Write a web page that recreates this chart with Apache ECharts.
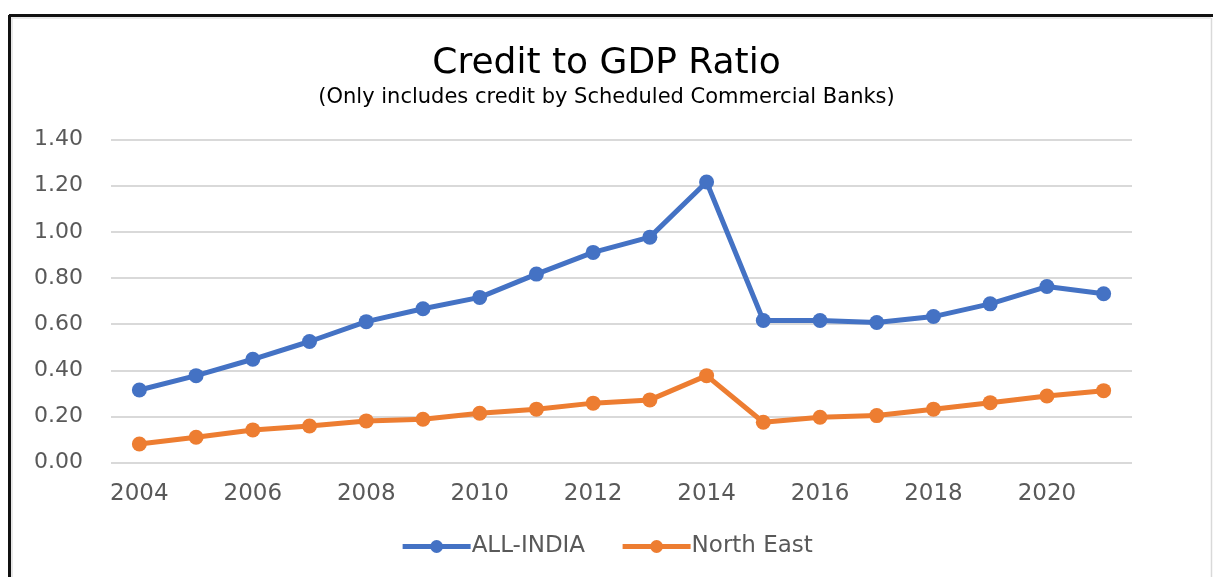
<!DOCTYPE html>
<html>
<head>
<meta charset="utf-8">
<script src="https://cdn.jsdelivr.net/npm/echarts@6/dist/echarts.min.js"></script>
<style>
html,body{margin:0;padding:0;background:#fff;}
#c{width:1213px;height:577px;}
</style>
</head>
<body>
<div id="c"></div>
<script>
const years = ['2004','2005','2006','2007','2008','2009','2010','2011','2012','2013','2014','2015','2016','2017','2018','2019','2020','2021'];
const allIndia = [0.315,0.377,0.448,0.525,0.611,0.667,0.716,0.817,0.911,0.977,1.216,0.616,0.616,0.607,0.633,0.688,0.763,0.732];
const northEast = [0.081,0.110,0.142,0.159,0.181,0.188,0.214,0.232,0.258,0.272,0.377,0.175,0.197,0.204,0.232,0.260,0.289,0.312];
const yTicks = [0, 0.2, 0.4, 0.6, 0.8, 1.0, 1.2, 1.4];

const font = "'DejaVu Sans', sans-serif";
const chart = echarts.init(document.getElementById('c'), null, {renderer:'canvas'});
chart.setOption({
  backgroundColor:'#fff',
  animation:false,
  title:{
    text:'Credit to GDP Ratio',
    subtext:'(Only includes credit by Scheduled Commercial Banks)',
    left:'center', top:41, itemGap:5,
    textStyle:{fontFamily:font, fontSize:36, fontWeight:'normal', color:'#000'},
    subtextStyle:{fontFamily:font, fontSize:21, color:'#000'}
  },
  grid:{left:111, right:81, top:139.5, bottom:114.3, containLabel:false},
  xAxis:{
    type:'category', data:years, boundaryGap:true,
    axisLine:{show:false}, axisTick:{show:false},
    axisLabel:{interval:1, color:'#595959', fontSize:23, fontFamily:font, margin:20}
  },
  yAxis:{
    type:'value', min:yTicks[0], max:yTicks[yTicks.length-1], interval:0.2,
    axisLine:{show:false}, axisTick:{show:false},
    splitLine:{lineStyle:{color:'#d9d9d9', width:2}},
    axisLabel:{color:'#595959', fontSize:22, fontFamily:font, margin:28, formatter:v=>v.toFixed(2)}
  },
  legend:{
    bottom:14, left:'center', itemWidth:68, itemHeight:16, itemGap:35,
    lineStyle:{width:5},
    textStyle:{color:'#595959', fontSize:23, fontFamily:font, padding:[0,0,0,-4]},
    data:['ALL-INDIA','North East']
  },
  series:[
    {name:'ALL-INDIA', type:'line', data:allIndia, symbol:'circle', symbolSize:15,
     lineStyle:{color:'#4472c4', width:5}, itemStyle:{color:'#4472c4'}},
    {name:'North East', type:'line', data:northEast, symbol:'circle', symbolSize:15,
     lineStyle:{color:'#ed7d31', width:5}, itemStyle:{color:'#ed7d31'}}
  ],
  graphic:[
    {type:'line', shape:{x1:9, y1:15.5, x2:1213, y2:15.5}, style:{stroke:'#111', lineWidth:3}},
    {type:'line', shape:{x1:9.5, y1:15, x2:9.5, y2:577}, style:{stroke:'#111', lineWidth:3}},
    {type:'line', shape:{x1:11, y1:18, x2:1211, y2:18}, style:{stroke:'#e0e0e0', lineWidth:1.5}},
    {type:'line', shape:{x1:12, y1:18, x2:12, y2:577}, style:{stroke:'#e0e0e0', lineWidth:1.5}},
    {type:'line', shape:{x1:1211.5, y1:18, x2:1211.5, y2:577}, style:{stroke:'#d9d9d9', lineWidth:1.5}}
  ]
});
</script>
</body>
</html>
